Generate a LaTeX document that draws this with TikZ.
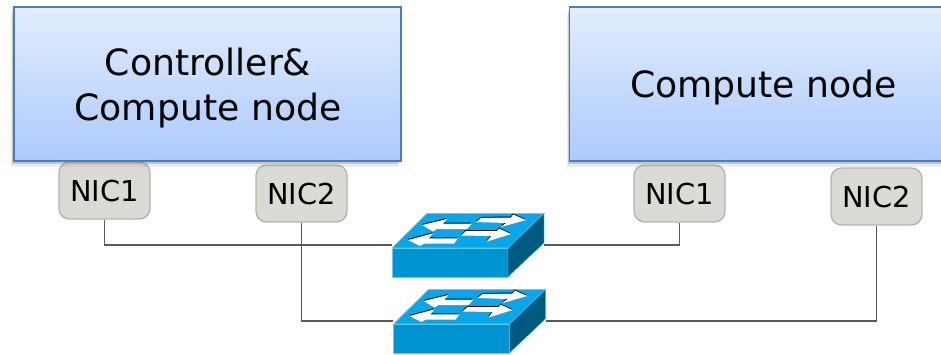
\documentclass[tikz,border=0pt]{standalone}
\usepackage{fontspec}
\setmainfont{DejaVu Sans}
\usetikzlibrary{shadows}

\definecolor{boxtop}{HTML}{E3EDFE}
\definecolor{boxbottom}{HTML}{ABCAFC}
\definecolor{boxline}{HTML}{4A7EBB}
\definecolor{nicfill}{HTML}{DBDAD5}
\definecolor{nicline}{HTML}{B4B4AC}
\definecolor{wireline}{HTML}{595959}
\definecolor{swtop}{HTML}{08A6EA}
\definecolor{swfront}{HTML}{0093D2}
\definecolor{swside}{HTML}{00597F}
\definecolor{swedge}{HTML}{5CCDF7}

\tikzset{
  hostbox/.style={draw=boxline, line width=0.8pt, top color=boxtop, bottom color=boxbottom,
    minimum width=7.74cm, minimum height=3.08cm,
    drop shadow={shadow xshift=-0.6mm, shadow yshift=-1.3mm, opacity=0.15},
    drop shadow={shadow xshift=-0.4mm, shadow yshift=-0.7mm, opacity=0.35}},
  hostlabel/.style={align=center, font=\fontsize{20.6}{25.5}\selectfont},
  nicbox/.style={draw=nicline, line width=0.8pt, fill=nicfill, rounded corners=6pt,
    minimum width=1.82cm, minimum height=1.14cm, text height=13pt, text depth=0pt,
    font=\fontsize{16.4}{19}\selectfont},
  wire/.style={draw=wireline, line width=1pt},
  swbox/.style={minimum width=3.04cm, minimum height=1.27cm, inner sep=0pt}
}

% one white arrow with its dark upper edge
\newcommand{\lanarrow}[1]{
  \fill[black, shift={(-0.3,-1)}] #1 -- cycle;
  \fill[white] #1 -- cycle;
}

\begin{document}
\begin{tikzpicture}[x=0.02cm, y=-0.02cm]
    \useasboundingbox (0,0) rectangle (941,355);
    \clip (0,0) rectangle (941,355);

    % NICs
    \node[nicbox] (ctrlnicone) at (104.5,190.5) {NIC1};
    \node[nicbox] (ctrlnictwo) at (301.5,193.5) {NIC2};
    \node[nicbox] (compnicone) at (679.5,193.5) {NIC1};
    \node[nicbox] (compnictwo) at (876.5,196.5) {NIC2};

    % Hosts
    \node[hostbox] (ctrl) at (207.5,84) {};
    \node[hostbox] (comp) at (763,84) {};
    \node[hostlabel] (ctrltext) at (208,88) {Controller\&\\Compute node};
    \node[hostlabel] (comptext) at (763.5,88) {Compute node};

    % Switches
    \foreach \swname/\sx/\sy in {swa/392/248, swb/393.5/324} {
      \begin{scope}[shift={(\sx,\sy)}]
        \node[swbox] (\swname) at (76,-3) {};
        \fill[swtop, draw=swedge, line width=0.4pt] (0,0) -- (35,-34.5) -- (152,-34.5) -- (116,0) -- cycle;
        \fill[swfront, draw=swedge, line width=0.4pt] (0,0) rectangle (116,29);
        \fill[swside, draw=swedge, line width=0.2pt] (116,0) -- (152,-34.5) -- (152,-5) -- (116,29) -- cycle;
        \lanarrow{(84,-26) -- (89,-30) -- (119,-30.5) -- (121,-33.5) -- (134,-28) -- (109,-21) -- (114,-25)}
        \lanarrow{(69,-12.5) -- (74,-17) -- (105,-17) -- (107,-19.5) -- (119,-14) -- (95,-6.5) -- (99,-12)}
        \lanarrow{(30,-23) -- (55,-29) -- (51,-24.5) -- (80,-24.5) -- (75,-19) -- (45,-19) -- (41,-16.5)}
        \lanarrow{(16,-8) -- (41,-14.7) -- (37,-9.7) -- (66,-9.7) -- (62,-4.3) -- (32,-4.3) -- (28,-2)}
      \end{scope}
    }

    % Wires
    \draw[wire] (ctrlnicone.south) |- (swa.west);
    \draw[wire] (ctrlnictwo.south) |- (swb.west);
    \draw[wire] (compnicone.south) |- (swa.east);
    \draw[wire] (compnictwo.south) |- (swb.east);
\end{tikzpicture}
\end{document}
